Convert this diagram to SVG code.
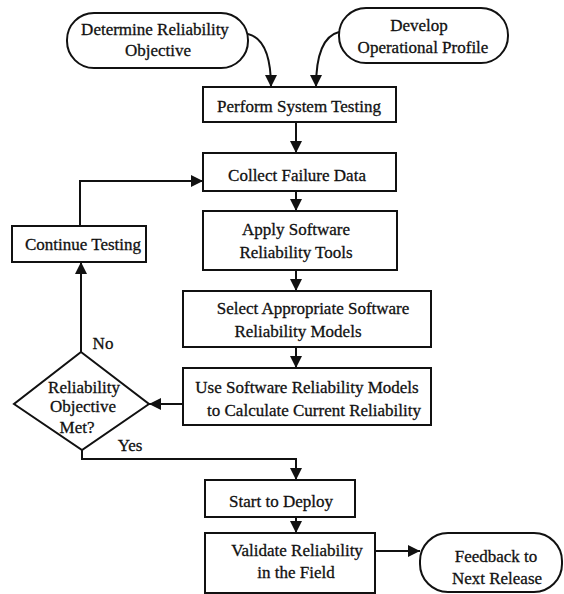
<svg xmlns="http://www.w3.org/2000/svg" width="564" height="594" viewBox="0 0 564 594">
<style>
.box{fill:#fff;stroke:#111;stroke-width:2}
.t{font-family:"Liberation Serif","Times New Roman",serif;font-size:17px;fill:#111;stroke:#111;stroke-width:0.3;text-anchor:middle}
.c{fill:none;stroke:#111;stroke-width:2}
</style>
<defs>
<marker id="ah" markerUnits="userSpaceOnUse" markerWidth="13" markerHeight="13" refX="12" refY="6" orient="auto">
<path d="M0,0 L12,6 L0,12 z" fill="#111"/>
</marker>
</defs>
<rect width="564" height="594" fill="#fff"/>
<g id="connectors">
<path class="c" d="M248,34 C264,38 271,56 271,87" marker-end="url(#ah)"/>
<path class="c" d="M339,32 C323,36 316,56 316,87" marker-end="url(#ah)"/>
<path class="c" d="M296,122 V153" marker-end="url(#ah)"/>
<path class="c" d="M296,191 V211" marker-end="url(#ah)"/>
<path class="c" d="M296,270 V291" marker-end="url(#ah)"/>
<path class="c" d="M296,347 V368" marker-end="url(#ah)"/>
<path class="c" d="M183,404 H149" marker-end="url(#ah)"/>
<path class="c" d="M81,352 V262" marker-end="url(#ah)"/>
<path class="c" d="M80,226 V181 H203" marker-end="url(#ah)"/>
<path class="c" d="M82,450 V459 H296 V480" marker-end="url(#ah)"/>
<path class="c" d="M296,517 V533" marker-end="url(#ah)"/>
<path class="c" d="M375,551 H420" marker-end="url(#ah)"/>
</g>
<g id="determine">
<rect class="box" x="67" y="13" width="181" height="55" rx="27" ry="27"/>
<text class="t" x="155" y="35">Determine Reliability</text>
<text class="t" x="158" y="56">Objective</text>
</g>
<g id="develop">
<rect class="box" x="339" y="8" width="169" height="55" rx="27" ry="27"/>
<text class="t" x="419" y="31">Develop</text>
<text class="t" x="423" y="53">Operational Profile</text>
</g>
<g id="perform">
<rect class="box" x="203" y="87" width="193" height="35"/>
<text class="t" x="299" y="112">Perform System Testing</text>
</g>
<g id="collect">
<rect class="box" x="203" y="153" width="193" height="38"/>
<text class="t" x="297" y="181">Collect Failure Data</text>
</g>
<g id="continue">
<rect class="box" x="12" y="226" width="134" height="36"/>
<text class="t" x="83" y="250">Continue Testing</text>
</g>
<g id="apply">
<rect class="box" x="203" y="211" width="194" height="59"/>
<text class="t" x="296" y="235">Apply Software</text>
<text class="t" x="296" y="258">Reliability Tools</text>
</g>
<g id="select">
<rect class="box" x="183" y="291" width="248" height="56"/>
<text class="t" x="313" y="314">Select Appropriate Software</text>
<text class="t" x="298" y="337">Reliability Models</text>
</g>
<g id="use">
<rect class="box" x="183" y="368" width="248" height="57"/>
<text class="t" x="307" y="393">Use Software Reliability Models</text>
<text class="t" x="314" y="416">to Calculate Current Reliability</text>
</g>
<g id="decision">
<polygon class="box" points="81,352 149,404 82,450 14,404"/>
<text class="t" x="84" y="393">Reliability</text>
<text class="t" x="83" y="412">Objective</text>
<text class="t" x="77" y="433">Met?</text>
<text class="t" x="103" y="349">No</text>
<text class="t" x="130" y="451">Yes</text>
</g>
<g id="deploy">
<rect class="box" x="205" y="480" width="150" height="37"/>
<text class="t" x="281" y="507">Start to Deploy</text>
</g>
<g id="validate">
<rect class="box" x="205" y="533" width="170" height="60"/>
<text class="t" x="297" y="556">Validate Reliability</text>
<text class="t" x="296" y="578">in the Field</text>
</g>
<g id="feedback">
<rect class="box" x="420" y="533" width="142" height="59" rx="28" ry="28"/>
<text class="t" x="496" y="562">Feedback to</text>
<text class="t" x="497" y="584">Next Release</text>
</g>
</svg>
